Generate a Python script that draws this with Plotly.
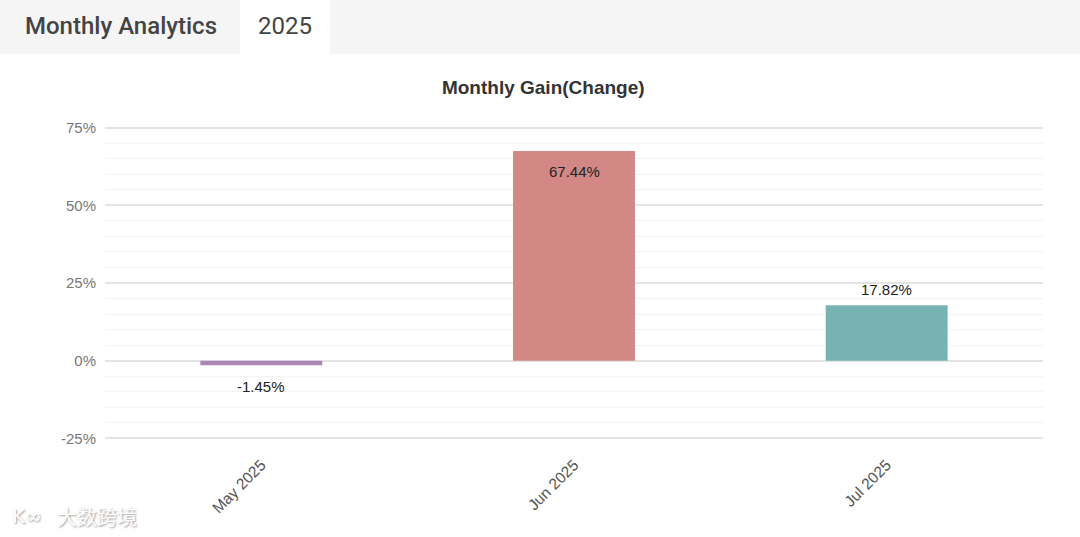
import plotly.graph_objects as go

months = ["May 2025", "Jun 2025", "Jul 2025"]
gains = [-1.45, 67.44, 17.82]
bar_colors = ["#a986b4", "#d38886", "#78b3b3"]
label_positions = ["outside", "inside", "outside"]
y_ticks = [-25, 0, 25, 50, 75]

W, H = 1080, 537
ML, MR, MT, MB = 105, 37, 126, 97
PW, PH = W - ML - MR, H - MT - MB


def px_x(px):
    return (px - ML) / PW


def px_y(py):
    return (H - MB - py) / PH


fig = go.Figure()
fig.add_trace(go.Bar(
    x=months,
    y=gains,
    marker=dict(color=bar_colors, line=dict(width=0)),
    width=0.39,
    hoverinfo="skip",
))

shapes = [
    dict(type="rect", xref="paper", yref="paper",
         x0=px_x(0), x1=px_x(W), y0=px_y(54), y1=px_y(0),
         fillcolor="#f5f5f5", line=dict(width=0), layer="below"),
    dict(type="rect", xref="paper", yref="paper",
         x0=px_x(240), x1=px_x(330), y0=px_y(54), y1=px_y(0),
         fillcolor="#ffffff", line=dict(width=0), layer="below"),
]

annotations = [
    dict(text="Monthly Analytics", xref="paper", yref="paper",
         x=px_x(23), y=px_y(26), xanchor="left", yanchor="middle",
         showarrow=False,
         font=dict(family="Roboto", size=24, color="#444444", weight=500)),
    dict(text="2025", xref="paper", yref="paper",
         x=px_x(285), y=px_y(26), xanchor="center", yanchor="middle",
         showarrow=False,
         font=dict(family="Roboto", size=24, color="#444444")),
    dict(text="大数跨境", xref="paper", yref="paper",
         x=px_x(55), y=px_y(516), xanchor="left", yanchor="middle",
         showarrow=False,
         font=dict(family="Noto Sans CJK SC", size=20, color="#ffffff",
                   shadow="1px 1px 2px #9a9a9a")),
    dict(text="K∞", xref="paper", yref="paper",
         x=px_x(10), y=px_y(516), xanchor="left", yanchor="middle",
         showarrow=False,
         font=dict(family="DejaVu Sans", size=20, color="#ffffff",
                   shadow="1px 1px 2px #9a9a9a")),
]

# value labels on the bars
for m, v, pos in zip(months, gains, label_positions):
    if pos == "inside":
        shift = -20 if v >= 0 else 20
    else:
        shift = 16 if v >= 0 else -21
    annotations.append(dict(
        x=m, y=v, xref="x", yref="y", text=f"{v:.2f}%",
        showarrow=False, yanchor="middle", xanchor="center", yshift=shift,
        font=dict(family="Liberation Sans, Arial", size=15, color="#222222"),
    ))

fig.update_layout(
    width=W, height=H, autosize=False,
    margin=dict(l=ML, r=MR, t=MT, b=MB),
    paper_bgcolor="#ffffff",
    plot_bgcolor="#ffffff",
    showlegend=False,
    title=dict(text="<b>Monthly Gain(Change)</b>", x=0.503, xref="container",
               xanchor="center", y=1 - 87 / H, yanchor="middle",
               font=dict(family="Liberation Sans, Arial", size=19, color="#333333")),
    shapes=shapes,
    annotations=annotations,
    bargap=0.61,
)

fig.update_yaxes(
    range=[-25.5, 75.5],
    tickvals=y_ticks,
    ticktext=[f"{v}%" for v in y_ticks],
    tickfont=dict(family="Liberation Sans, Arial", size=15, color="#777777"),
    showgrid=True, gridcolor="#e4e4e4", gridwidth=1.5,
    zeroline=True, zerolinecolor="#e4e4e4", zerolinewidth=1.5,
    minor=dict(dtick=5, tick0=0, showgrid=True, gridcolor="#f3f3f3", gridwidth=1),
    showline=False,
    ticks="", ticklabelstandoff=8,
    fixedrange=True,
)

fig.update_xaxes(
    tickangle=-45,
    tickfont=dict(family="Liberation Sans, Arial", size=15.5, color="#555555"),
    showgrid=False, showline=False, ticks="",
    ticklabelstandoff=12,
    fixedrange=True,
)

fig.write_html(
    "out.html",
    config={"displayModeBar": False},
    post_script="document.body.style.margin='0';document.body.style.padding='0';",
)
